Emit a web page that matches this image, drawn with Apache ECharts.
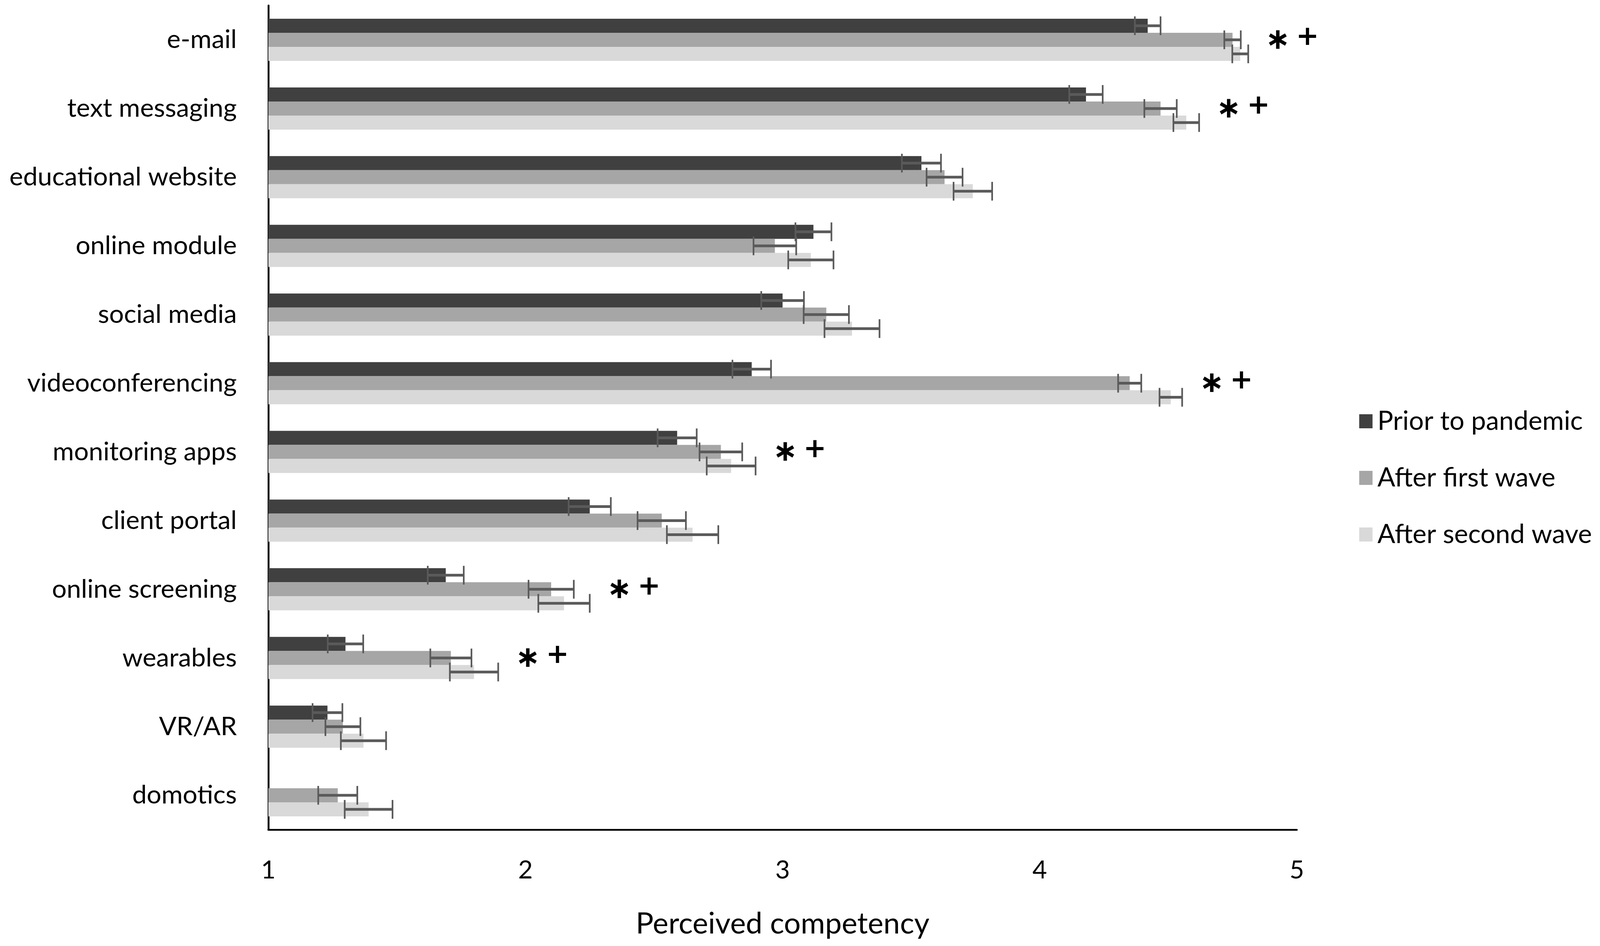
<!DOCTYPE html>
<html>
<head>
<meta charset="utf-8">
<script src="https://cdn.jsdelivr.net/npm/echarts@6/dist/echarts.min.js"></script>
<style>
html,body{margin:0;padding:0;background:#fff;overflow:hidden;}
#chart{width:100vw;height:100vh;}
</style>
</head>
<body>
<div id="chart"></div>
<script>
const categories = ['e-mail','text messaging','educational website','online module','social media','videoconferencing','monitoring apps','client portal','online screening','wearables','VR/AR','domotics'];
const seriesNames = ['Prior to pandemic','After first wave','After second wave'];
const prior      = [4.42, 4.18, 3.54, 3.12, 3.00, 2.88, 2.59, 2.25, 1.69, 1.30, 1.23, null];
const firstWave  = [4.75, 4.47, 3.63, 2.97, 3.17, 4.35, 2.76, 2.53, 2.10, 1.71, 1.29, 1.27];
const secondWave = [4.78, 4.57, 3.74, 3.11, 3.27, 4.51, 2.80, 2.65, 2.15, 1.80, 1.37, 1.39];
const priorErr      = [0.050, 0.065, 0.076, 0.070, 0.083, 0.075, 0.076, 0.082, 0.070, 0.069, 0.058, null];
const firstWaveErr  = [0.032, 0.063, 0.070, 0.083, 0.088, 0.045, 0.083, 0.094, 0.088, 0.080, 0.068, 0.076];
const secondWaveErr = [0.031, 0.050, 0.075, 0.088, 0.107, 0.044, 0.095, 0.100, 0.100, 0.094, 0.088, 0.093];
const significant = ['e-mail','text messaging','videoconferencing','monitoring apps','online screening','wearables'];
const xTicks = [1, 2, 3, 4, 5];

const colors = ['#404040', '#a6a6a6', '#d9d9d9'];
const ERR_COLOR = '#5a5a5a';
const FONT = 'Lato';

const el = document.getElementById('chart');
const W = el.clientWidth || window.innerWidth;
const H = el.clientHeight || window.innerHeight;
const s = W / 4317;
const sy = H / 2423;
const px = v => v * s;
const py = v => v * sy;
const BAR_W = py(36);

const values = [prior, firstWave, secondWave];
const errs = [priorErr, firstWaveErr, secondWaveErr];

const errData = [];
values.forEach((arr, k) => {
  arr.forEach((v, i) => {
    const e = errs[k][i];
    if (v != null && e != null) errData.push([i, v - e, v + e, k]);
  });
});

const annData = significant.map(name => {
  const i = categories.indexOf(name);
  let m = -Infinity;
  values.forEach((arr, k) => {
    if (arr[i] != null) m = Math.max(m, arr[i] + (errs[k][i] || 0));
  });
  return [i, m];
});

const chart = echarts.init(el, null, {renderer: 'canvas', width: W, height: H});

const barSeries = values.map((arr, k) => ({
  name: seriesNames[k],
  type: 'bar',
  data: arr.map(v => v == null ? '-' : v),
  barWidth: BAR_W,
  barGap: '0%',
  itemStyle: {color: colors[k]},
  emphasis: {disabled: true},
  z: 2
}));

const option = {
  animation: false,
  backgroundColor: '#ffffff',
  grid: {left: px(724), right: px(818), top: py(14), bottom: py(298), containLabel: false},
  legend: {
    orient: 'vertical',
    left: px(3662),
    top: py(1038),
    itemWidth: px(36),
    itemHeight: py(36),
    itemGap: py(73),
    icon: 'rect',
    data: seriesNames,
    textStyle: {fontFamily: FONT, fontSize: px(71), color: '#000', lineHeight: py(72), padding: [0, 0, 0, px(8)]}
  },
  xAxis: {
    type: 'value',
    min: xTicks[0],
    max: xTicks[xTicks.length - 1],
    interval: 1,
    name: 'Perceived competency',
    nameLocation: 'middle',
    nameGap: py(204),
    nameTextStyle: {fontFamily: FONT, fontSize: px(80), color: '#000'},
    axisLine: {show: true, lineStyle: {color: '#000', width: px(5)}},
    axisTick: {show: false},
    splitLine: {show: false},
    axisLabel: {fontFamily: FONT, fontSize: px(68), color: '#000', margin: py(72)}
  },
  yAxis: {
    type: 'category',
    data: categories,
    inverse: true,
    axisLine: {show: true, lineStyle: {color: '#000', width: px(5)}},
    axisTick: {show: false},
    axisLabel: {fontFamily: FONT, fontSize: px(70), color: '#000', margin: px(85)}
  },
  series: barSeries.concat([
    {
      type: 'custom',
      name: 'err',
      data: errData,
      encode: {x: [1, 2], y: 0},
      z: 5,
      silent: true,
      renderItem: function (params, api) {
        const cat = api.value(0), lo = api.value(1), hi = api.value(2), k = api.value(3);
        const pLo = api.coord([lo, cat]);
        const pHi = api.coord([hi, cat]);
        const y = pLo[1] + (k - 1) * BAR_W;
        const h = py(24);
        return {
          type: 'group',
          children: [
            {type: 'line', shape: {x1: pLo[0], y1: y, x2: pHi[0], y2: y}, style: {stroke: ERR_COLOR, lineWidth: py(7)}},
            {type: 'line', shape: {x1: pLo[0], y1: y - h, x2: pLo[0], y2: y + h}, style: {stroke: ERR_COLOR, lineWidth: px(4.5)}},
            {type: 'line', shape: {x1: pHi[0], y1: y - h, x2: pHi[0], y2: y + h}, style: {stroke: ERR_COLOR, lineWidth: px(4.5)}}
          ]
        };
      }
    },
    {
      type: 'custom',
      name: 'sig',
      data: annData,
      encode: {x: 1, y: 0},
      z: 6,
      silent: true,
      clip: false,
      renderItem: function (params, api) {
        const p = api.coord([api.value(1), api.value(0)]);
        return {
          type: 'group',
          children: [
            {type: 'text', style: {x: p[0] + px(80), y: p[1] + py(3), text: '\u2217', fill: '#000', fontFamily: 'DejaVu Sans', fontWeight: 'bold', fontSize: px(80), align: 'center', verticalAlign: 'middle'}},
            {type: 'text', style: {x: p[0] + px(160), y: p[1] - py(5), text: '+', fill: '#000', fontFamily: 'DejaVu Sans', fontWeight: 'bold', fontSize: px(74), align: 'center', verticalAlign: 'middle'}}
          ]
        };
      }
    }
  ])
};

chart.setOption(option);
</script>
</body>
</html>
